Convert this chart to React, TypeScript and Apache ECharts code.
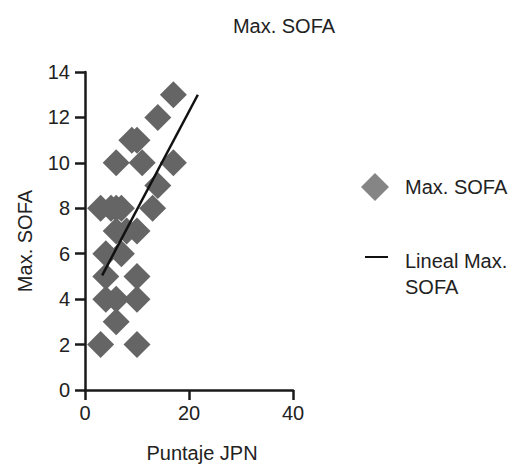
import React, { useEffect, useRef } from "react";
import * as echarts from "echarts";

const jpnScores = [3, 10, 6, 4, 6, 10, 4, 10, 4, 7, 6, 10, 8, 3, 5, 6, 7, 13, 14, 6, 11, 17, 9, 10, 14, 17];
const maxSofa = [2, 2, 3, 4, 4, 4, 5, 5, 6, 6, 7, 7, 7, 8, 8, 8, 8, 8, 9, 10, 10, 10, 11, 11, 12, 13];
const trendX = [3.3, 21.7];
const trendY = [5.05, 13];
const xTicks = [0, 20, 40];
const yTicks = [0, 2, 4, 6, 8, 10, 12, 14];

const FONT = "Liberation Sans, Arial, sans-serif";
const FS = 20;

export default function App() {
  const ref = useRef<HTMLDivElement>(null);
  useEffect(() => {
    if (!ref.current) return;
    const chart = echarts.init(ref.current, null, { renderer: "svg" });
    const scatterData = jpnScores.map((x, i) => [x, maxSofa[i]]);
    const lineData = trendX.map((x, i) => [x, trendY[i]]);
    chart.setOption({
      animation: false,
      backgroundColor: "#ffffff",
      textStyle: { fontFamily: FONT },
      title: {
        text: "Max. SOFA",
        left: 279,
        top: 11,
        textAlign: "center",
        textStyle: { fontFamily: FONT, fontSize: FS, fontWeight: "normal", color: "#222" },
      },
      grid: { left: 85, top: 72, width: 208, height: 318, containLabel: false },
      xAxis: {
        type: "value",
        min: xTicks[0],
        max: xTicks[xTicks.length - 1],
        interval: 20,
        name: "Puntaje JPN",
        nameLocation: "middle",
        nameGap: 53,
        nameTextStyle: { fontFamily: FONT, fontSize: FS, color: "#222", padding: [0, 0, 0, 26] },
        axisLine: { show: true, lineStyle: { color: "#1a1a1a", width: 2.5 } },
        axisTick: { show: true, length: 10, lineStyle: { color: "#1a1a1a", width: 2.5 } },
        axisLabel: { fontFamily: FONT, fontSize: FS, color: "#222", margin: 13 },
        splitLine: { show: false },
      },
      yAxis: {
        type: "value",
        min: yTicks[0],
        max: yTicks[yTicks.length - 1],
        interval: 2,
        name: "Max. SOFA",
        nameLocation: "middle",
        nameGap: 50,
        nameTextStyle: { fontFamily: FONT, fontSize: FS, color: "#222", padding: [0, 20, 0, 0] },
        axisLine: { show: true, lineStyle: { color: "#1a1a1a", width: 2.5 } },
        axisTick: { show: true, length: 10, lineStyle: { color: "#1a1a1a", width: 2.5 } },
        axisLabel: { fontFamily: FONT, fontSize: FS, color: "#222", margin: 15 },
        splitLine: { show: false },
      },
      series: [
        {
          name: "Max. SOFA",
          type: "scatter",
          symbol: "diamond",
          symbolSize: [27, 27],
          itemStyle: { color: "#656565", opacity: 1 },
          data: scatterData,
          z: 2,
        },
        {
          name: "Lineal Max. SOFA",
          type: "line",
          data: lineData,
          symbol: "none",
          lineStyle: { color: "#111", width: 2.5 },
          z: 3,
        },
      ],
      graphic: [
        {
          type: "polygon",
          shape: { points: [[375, 173], [389, 187], [375, 201], [361, 187]] },
          style: { fill: "#858585" },
        },
        {
          type: "text",
          x: 405,
          y: 187,
          style: { text: "Max. SOFA", font: `${FS}px ${FONT}`, fill: "#222", textVerticalAlign: "middle" },
        },
        {
          type: "line",
          shape: { x1: 365, y1: 257, x2: 388, y2: 257 },
          style: { stroke: "#111", lineWidth: 2 },
        },
        {
          type: "text",
          x: 405,
          y: 261,
          style: { text: "Lineal Max.", font: `${FS}px ${FONT}`, fill: "#222", textVerticalAlign: "middle" },
        },
        {
          type: "text",
          x: 405,
          y: 287,
          style: { text: "SOFA", font: `${FS}px ${FONT}`, fill: "#222", textVerticalAlign: "middle" },
        },
      ],
    });
    return () => chart.dispose();
  }, []);
  return (
    <div
      ref={ref}
      style={{ position: "absolute", left: 0, top: 0, width: 519, height: 469 }}
    />
  );
}
